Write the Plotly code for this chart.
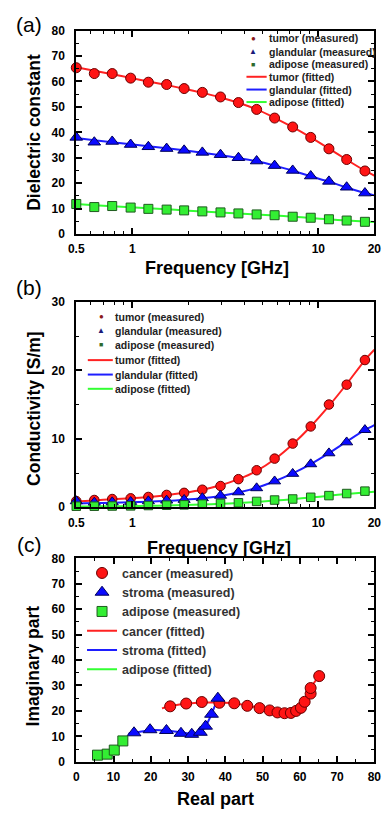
import math
import plotly.graph_objects as go

W, H = 390, 813

# ---------------- data ----------------
FREQ = [0.5, 0.625, 0.78, 0.98, 1.22, 1.53, 1.9, 2.38, 2.98, 3.72, 4.66, 5.82, 7.28, 9.1, 11.4, 14.2, 17.8]
FIT_FREQ = [0.5, 0.625, 0.78, 0.98, 1.22, 1.53, 1.9, 2.38, 2.98, 3.72, 4.66, 5.82, 7.28, 9.1, 11.4, 14.2, 17.8, 20.0]

# (a) dielectric constant
TUMOR_EPS = [65.4, 63.1, 63.1, 61.3, 59.7, 58.8, 57.2, 55.7, 53.9, 51.7, 49.0, 45.6, 42.1, 38.0, 33.5, 29.3, 24.8]
GLAND_EPS = [38.0, 36.1, 36.4, 35.2, 34.3, 33.6, 32.9, 32.1, 31.2, 30.0, 28.7, 26.9, 25.0, 22.8, 20.7, 18.4, 16.1]
ADIP_EPS = [11.8, 10.6, 11.0, 10.4, 9.9, 9.6, 9.3, 8.9, 8.5, 8.1, 7.7, 7.4, 6.8, 6.4, 5.8, 5.3, 4.8]
TUMOR_EPS_FIT = [65.6, 64.2, 62.8, 61.4, 60.0, 58.6, 57.1, 55.5, 53.7, 51.6, 49.0, 45.7, 42.0, 38.0, 33.6, 29.2, 24.9, 23.0]
GLAND_EPS_FIT = [37.8, 36.9, 36.1, 35.3, 34.5, 33.7, 32.9, 32.0, 31.0, 29.9, 28.6, 26.9, 24.9, 22.7, 20.6, 18.3, 16.1, 15.2]
ADIP_EPS_FIT = [11.8, 11.3, 10.9, 10.5, 10.1, 9.7, 9.3, 8.9, 8.5, 8.1, 7.7, 7.3, 6.8, 6.3, 5.8, 5.3, 4.9, 4.7]

# (b) conductivity
TUMOR_SIG = [0.9, 1.06, 1.2, 1.3, 1.5, 1.8, 2.1, 2.56, 3.1, 4.1, 5.4, 7.1, 9.3, 11.8, 15.0, 17.9, 21.5]
GLAND_SIG = [0.9, 0.7, 0.75, 0.8, 0.9, 1.0, 1.1, 1.35, 1.7, 2.2, 2.8, 3.8, 4.9, 6.3, 7.9, 9.5, 11.3]
ADIP_SIG = [0.15, 0.15, 0.18, 0.2, 0.25, 0.3, 0.35, 0.45, 0.55, 0.65, 0.85, 1.05, 1.2, 1.45, 1.7, 2.0, 2.35]
TUMOR_SIG_FIT = [0.85, 1.0, 1.15, 1.3, 1.5, 1.75, 2.1, 2.55, 3.2, 4.1, 5.3, 7.0, 9.2, 11.8, 14.8, 18.0, 21.5, 23.0]
GLAND_SIG_FIT = [0.55, 0.6, 0.65, 0.72, 0.8, 0.92, 1.08, 1.3, 1.65, 2.15, 2.85, 3.8, 4.95, 6.3, 7.9, 9.6, 11.3, 12.0]
ADIP_SIG_FIT = [0.1, 0.12, 0.14, 0.17, 0.21, 0.26, 0.32, 0.4, 0.5, 0.62, 0.78, 0.97, 1.18, 1.42, 1.68, 1.95, 2.15, 2.25]

# (c) Cole-Cole: real vs imaginary part
CANCER_RE = [25.2, 29.5, 33.7, 38.4, 42.4, 45.9, 49.2, 51.9, 54.0, 55.9, 57.6, 59.0, 60.3, 61.3, 62.9, 62.9, 65.2]
CANCER_IM = [21.8, 22.9, 23.5, 23.2, 23.0, 22.0, 21.1, 20.2, 19.4, 19.1, 19.2, 20.0, 21.2, 23.6, 26.8, 29.0, 33.7]
CANCER_RE_FIT = [23.0, 25.2, 29.5, 33.7, 38.4, 42.4, 45.9, 49.2, 51.9, 54.0, 55.9, 57.6, 59.0, 60.3, 61.3, 62.9, 62.9, 65.2]
CANCER_IM_FIT = [21.0, 21.9, 22.8, 23.3, 23.3, 23.0, 22.1, 21.1, 20.2, 19.5, 19.1, 19.2, 20.0, 21.3, 23.5, 26.9, 29.0, 33.7]
STROMA_RE = [15.5, 19.8, 24.2, 28.1, 31.0, 33.3, 34.7, 36.3, 38.0]
STROMA_IM = [11.4, 12.6, 12.3, 11.2, 10.8, 11.6, 14.0, 18.7, 25.0]
STROMA_RE_FIT = [14.0, 15.5, 19.8, 24.2, 28.1, 31.0, 33.3, 34.7, 36.3, 38.0]
STROMA_IM_FIT = [11.0, 11.4, 12.4, 12.3, 11.6, 11.0, 11.6, 14.0, 18.7, 25.0]
ADIPC_RE = [5.7, 8.3, 10.2, 12.5]
ADIPC_IM = [2.6, 3.0, 4.6, 8.2]

LEG_AB = ["tumor (measured)", "glandular (measured)", "adipose (measured)",
          "tumor (fitted)", "glandular (fitted)", "adipose (fitted)"]
LEG_C = ["cancer (measured)", "stroma (measured)", "adipose (measured)",
         "cancer (fitted)", "stroma (fitted)", "adipose (fitted)"]

# ---------------- styles ----------------
RED_F, RED_E, RED_L = "#ff1414", "#6a0000", "#ff2222"
BLU_F, BLU_E, BLU_L = "#0a0aff", "#00005a", "#1e1eff"
GRN_F, GRN_E, GRN_L = "#33ee33", "#1f5a1f", "#33ff33"
FONT = "Liberation Sans, Arial, sans-serif"


def px(x):
    return x / W


def py(y):
    return 1 - y / H


fig = go.Figure()


def add_lines(xs, ys, color, xa, ya, name=None, show=False, rank=None):
    fig.add_trace(go.Scatter(x=xs, y=ys, mode="lines", line=dict(color=color, width=2, shape="spline", smoothing=0.6),
                             xaxis=xa, yaxis=ya, name=name, showlegend=show,
                             legendrank=rank if rank else 1000, hoverinfo="skip"))


def add_markers(xs, ys, sym, fill, edge, size, xa, ya, name=None, show=False, rank=None):
    fig.add_trace(go.Scatter(x=xs, y=ys, mode="markers",
                             marker=dict(symbol=sym, color=fill, size=size, line=dict(color=edge, width=1)),
                             xaxis=xa, yaxis=ya, name=name, showlegend=show, cliponaxis=False,
                             legendrank=rank if rank else 1000))


# panel (a)
add_lines(FIT_FREQ, TUMOR_EPS_FIT, RED_L, "x", "y")
add_lines(FIT_FREQ, GLAND_EPS_FIT, BLU_L, "x", "y")
add_lines(FIT_FREQ, ADIP_EPS_FIT, GRN_L, "x", "y")
add_markers(FREQ, TUMOR_EPS, "circle", RED_F, RED_E, 10, "x", "y")
add_markers(FREQ, GLAND_EPS, "triangle-up", BLU_F, BLU_E, 11, "x", "y")
add_markers(FREQ, ADIP_EPS, "square", GRN_F, GRN_E, 9, "x", "y")

# panel (b)
add_lines(FIT_FREQ, TUMOR_SIG_FIT, RED_L, "x2", "y2")
add_lines(FIT_FREQ, GLAND_SIG_FIT, BLU_L, "x2", "y2")
add_lines(FIT_FREQ, ADIP_SIG_FIT, GRN_L, "x2", "y2")
add_markers(FREQ, TUMOR_SIG, "circle", RED_F, RED_E, 9.5, "x2", "y2")
add_markers(FREQ, GLAND_SIG, "triangle-up", BLU_F, BLU_E, 10.5, "x2", "y2")
add_markers(FREQ, ADIP_SIG, "square", GRN_F, GRN_E, 8.5, "x2", "y2")

# panel (c)
add_lines(CANCER_RE_FIT, CANCER_IM_FIT, RED_L, "x3", "y3", LEG_C[3], True, 4)
add_lines(STROMA_RE_FIT, STROMA_IM_FIT, BLU_L, "x3", "y3", LEG_C[4], True, 5)
add_lines(ADIPC_RE, ADIPC_IM, GRN_L, "x3", "y3", LEG_C[5], True, 6)
add_markers(CANCER_RE, CANCER_IM, "circle", RED_F, RED_E, 11, "x3", "y3", LEG_C[0], True, 1)
add_markers(STROMA_RE, STROMA_IM, "triangle-up", BLU_F, BLU_E, 12, "x3", "y3", LEG_C[1], True, 2)
add_markers(ADIPC_RE, ADIPC_IM, "square", GRN_F, GRN_E, 10, "x3", "y3", LEG_C[2], True, 3)

tickfont = dict(family=FONT, size=12, color="black", weight="bold")
base = dict(showline=True, linecolor="black", linewidth=2, mirror="allticks", ticks="inside",
            ticklen=6, tickwidth=1.5, tickcolor="black", showgrid=False, zeroline=False,
            tickfont=tickfont, fixedrange=True)
minor_lin = dict(dtick=5, ticks="inside", ticklen=3, tickwidth=1.2, tickcolor="black", showgrid=False)
log_minor = dict(tickvals=[0.6, 0.7, 0.8, 0.9, 2, 3, 4, 5, 6, 7, 8, 9], ticks="inside", ticklen=3,
                 tickwidth=1.2, tickcolor="black", showgrid=False)

XDOM = [px(71), px(381)]
logx = dict(type="log", range=[math.log10(0.5), math.log10(20)], tickmode="array",
            tickvals=[0.5, 1, 10, 20], ticktext=["0.5", "1", "10", "20"], minor=log_minor,
            ticklabelstandoff=3, domain=XDOM)

fig.update_layout(
    width=W, height=H, margin=dict(l=0, r=0, t=0, b=0),
    paper_bgcolor="white", plot_bgcolor="white",
    xaxis=dict(**base, **logx, anchor="y"),
    yaxis=dict(**base, range=[0, 80], dtick=10, minor=minor_lin, domain=[py(231), py(24)],
               anchor="x", ticklabelstandoff=7),
    xaxis2=dict(**base, **logx, anchor="y2"),
    yaxis2=dict(**base, range=[0, 30], dtick=10, minor=minor_lin, domain=[py(509), py(300)],
                anchor="x2", ticklabelstandoff=7),
    xaxis3=dict(**base, range=[0, 80], dtick=10, minor=minor_lin, domain=XDOM, anchor="y3",
                ticklabelstandoff=3),
    yaxis3=dict(**base, range=[0, 80], dtick=10, minor=minor_lin, domain=[py(768), py(561)],
                anchor="x3", ticklabelstandoff=7),
    showlegend=True,
    legend=dict(x=px(77), y=py(561), xanchor="left", yanchor="top", bgcolor="rgba(0,0,0,0)",
                borderwidth=0, itemwidth=30, tracegroupgap=0,
                font=dict(family=FONT, size=12.5, color="#333333", weight="bold")),
)

ann = []
shapes = []


def label(txt, x, y, size, bold=False, angle=0, color="black", xanchor="center"):
    ann.append(dict(text=txt, x=px(x), y=py(y), xref="paper", yref="paper", showarrow=False,
                    xanchor=xanchor, yanchor="middle", textangle=angle,
                    font=dict(family=FONT, size=size, color=color, weight="bold" if bold else "normal")))


# panel labels
label("(a)", 22, 18, 21)
label("(b)", 22, 285, 21)
label("(c)", 22, 547, 21)

# axis titles
label("Dielectric constant", 27, 127, 17.5, bold=True, angle=-90)
label("Conductivity [S/m]", 27, 408, 17.5, bold=True, angle=-90)
label("Imaginary part", 27, 670, 17.5, bold=True, angle=-90)
label("Frequency [GHz]", 217, 266, 18, bold=True)
label("Frequency [GHz]", 219, 550, 18, bold=True)
label("Real part", 216, 806, 18, bold=True)

# manual legends for (a) and (b)
SYMS = [("●", "#8b1a1a", 8), ("▲", "#1a1a7a", 8), ("■", "#2e6b2e", 7)]
LINECOLS = [RED_L, BLU_L, GRN_L]


def manual_legend(rows, text_x, marker_x, line_x0, line_x1):
    for i, (txt, yy) in enumerate(zip(LEG_AB, rows)):
        label(txt, text_x, yy, 10.5, bold=True, color="#222222", xanchor="left")
        if i < 3:
            g, c, s = SYMS[i]
            label(g, marker_x, yy, s, color=c)
        else:
            shapes.append(dict(type="line", xref="paper", yref="paper", x0=px(line_x0), x1=px(line_x1),
                               y0=py(yy), y1=py(yy), line=dict(color=LINECOLS[i - 3], width=2)))


manual_legend([32, 45.5, 58.5, 71, 84, 96.7], 269, 255, 248, 269)
manual_legend([315, 329.5, 343.5, 359.3, 374, 388.5], 109, 97, 83, 109)

fig.update_layout(annotations=ann, shapes=shapes)
fig.write_html("out.html", config={"displayModeBar": False},
               post_script="document.body.style.margin='0px';document.body.style.overflow='hidden';")
